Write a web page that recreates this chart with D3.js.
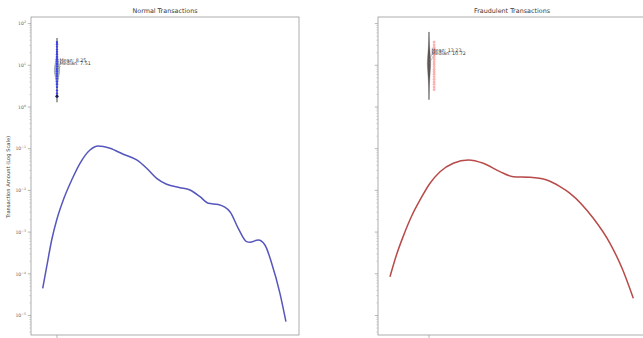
<!DOCTYPE html>
<html>
<head>
<meta charset="utf-8">
<script src="https://cdn.jsdelivr.net/npm/d3@7"></script>
<style>
  body { margin: 0; background: #fff; }
  svg { display: block; font-family: "DejaVu Sans", sans-serif; }
</style>
</head>
<body>
<svg id="chart" width="643" height="338"></svg>
<script>
// KDE curves (x in plot units, y = density, log axis)
const normalKdeX = [-0.55, -0.396, -0.204, -0.012, 0.242, 0.565, 0.885, 1.269, 1.588, 2.038, 2.55, 3.065, 3.45, 3.835, 4.219, 4.731, 5.115, 5.5, 5.819, 6.204, 6.654, 6.973, 7.296, 7.423, 7.742, 8.0, 8.258, 8.577, 8.808];
const normalKdeY = [4.49e-5, 1.48e-4, 6.47e-4, 1.95e-3, 5.89e-3, 0.0177, 0.0446, 0.0931, 0.116, 0.102, 0.0734, 0.0536, 0.0339, 0.0195, 0.014, 0.0116, 0.0102, 0.00706, 0.00491, 0.00459, 0.00308, 0.00123, 0.000589, 0.000569, 0.000647, 0.000491, 0.000179, 3.4e-5, 7.1e-6];
const fraudKdeX = [-0.765, -0.635, -0.504, -0.34, -0.176, 0.02, 0.216, 0.476, 0.771, 1.065, 1.392, 1.653, 1.98, 2.308, 2.569, 2.765, 3.222, 3.549, 3.8, 4.006];
const fraudKdeY = [8.51e-5, 2.9e-4, 8.0e-4, 2.43e-3, 5.89e-3, 0.0148, 0.0281, 0.0446, 0.0536, 0.0446, 0.0281, 0.0213, 0.0206, 0.0177, 0.0123, 0.00851, 0.00214, 0.000538, 0.000123, 2.58e-5];

// violin profiles (amount, relative density)
const normalViolinAmt = [1.3, 1.7, 2.5, 3.5, 5, 7, 9, 12, 16, 22, 30, 45];
const normalViolinDens = [0.02, 0.06, 0.12, 0.25, 0.6, 1.0, 0.95, 0.6, 0.3, 0.12, 0.05, 0.02];
const fraudViolinAmt = [1.5, 2.2, 3.5, 5, 8, 11, 15, 22, 30, 45, 63];
const fraudViolinDens = [0.02, 0.08, 0.25, 0.5, 0.85, 1.0, 0.85, 0.55, 0.3, 0.1, 0.02];

// strip points (amounts)
const normalPoints = [1.8, 2.1, 2.5, 3.0, 3.5, 4.1, 4.8, 5.5, 6.3, 7.2, 8.2, 9.4, 10.8, 12.3, 14, 16, 18.5, 21, 24, 28, 32, 36];
const fraudPoints = [2.6, 3.0, 3.5, 4.0, 4.6, 5.3, 6.1, 7.0, 8.0, 9.2, 10.5, 12, 13.8, 15.8, 18, 20.6, 23.5, 27, 31, 36];

const panelTitles = ['Normal Transactions', 'Fraudulent Transactions'];
const meanValues = [8.25, 13.23];
const medianValues = [7.51, 10.72];
const yTickExps = [-5, -4, -3, -2, -1, 0, 1, 2];
const yLabel = 'Transaction Amount (Log Scale)';

const svg = d3.select('#chart');
const plotTop = 17, plotBottom = 335;
const y = d3.scaleLog().domain([Math.pow(10, -5.468), Math.pow(10, 2.158)]).range([plotBottom, plotTop]);

const panels = [
  {
    title: panelTitles[0], left: 31, right: 299, xDomain: [-1, 9.31],
    kdeX: normalKdeX, kdeY: normalKdeY, line: '#5656bd',
    vAmt: normalViolinAmt, vDens: normalViolinDens, vFill: '#8299ad', vHalf: 2.6,
    pts: normalPoints, ptColor: '#1a1aff', ptOffset: 0, ptR: 1.2, ptOpacity: 0.7,
    mean: meanValues[0], median: medianValues[0], meanDy: -6.8, medianDy: -5.6,
    showYLabels: true
  },
  {
    title: panelTitles[1], left: 378, right: 646, xDomain: [-1, 4.255],
    kdeX: fraudKdeX, kdeY: fraudKdeY, line: '#b84a4a',
    vAmt: fraudViolinAmt, vDens: fraudViolinDens, vFill: '#3e2c2c', vHalf: 1.7,
    pts: fraudPoints, ptColor: '#ff3a3a', ptOffset: 0.1, ptR: 1.4, ptOpacity: 0.4,
    mean: meanValues[1], median: medianValues[1], meanDy: -8.4, medianDy: -8.6,
    showYLabels: false
  }
];

panels.forEach(p => {
  const x = d3.scaleLinear().domain(p.xDomain).range([p.left, p.right]);
  const g = svg.append('g');

  // title
  g.append('text')
    .attr('x', (p.left + p.right) / 2)
    .attr('y', 13)
    .attr('text-anchor', 'middle')
    .attr('font-size', 6.4)
    .attr('fill', '#3a3a3a')
    .text(p.title);

  // y ticks (major + minor)
  yTickExps.forEach(e => {
    const v = Math.pow(10, e);
    g.append('line')
      .attr('x1', p.left - 3.2).attr('x2', p.left)
      .attr('y1', y(v)).attr('y2', y(v))
      .attr('stroke', '#888').attr('stroke-width', 0.6);
    if (p.showYLabels) {
      const t = g.append('text')
        .attr('x', p.left - 5)
        .attr('y', y(v) + 1.8)
        .attr('text-anchor', 'end')
        .attr('font-size', 4.6)
        .attr('fill', '#666');
      t.append('tspan').text('10');
      t.append('tspan').attr('dy', -2).attr('font-size', 3.2).text(e < 0 ? '\u2212' + (-e) : e);
    }
  });
  for (let e = -6; e <= 2; e++) {
    for (let m = 2; m <= 9; m++) {
      const v = m * Math.pow(10, e);
      if (v < y.domain()[0] || v > y.domain()[1]) continue;
      g.append('line')
        .attr('x1', p.left - 1.8).attr('x2', p.left)
        .attr('y1', y(v)).attr('y2', y(v))
        .attr('stroke', '#aaa').attr('stroke-width', 0.4);
    }
  }

  // x tick at category position
  g.append('line')
    .attr('x1', x(0)).attr('x2', x(0))
    .attr('y1', plotBottom).attr('y2', plotBottom + 3)
    .attr('stroke', '#888').attr('stroke-width', 0.6);

  // KDE line
  const kde = p.kdeX.map((d, i) => [d, p.kdeY[i]]);
  g.append('path')
    .datum(kde)
    .attr('fill', 'none')
    .attr('stroke', p.line)
    .attr('stroke-width', 1.5)
    .attr('stroke-linejoin', 'round')
    .attr('d', d3.line().x(d => x(d[0])).y(d => y(d[1])).curve(d3.curveMonotoneX));

  // whisker line through violin
  g.append('line')
    .attr('x1', x(0)).attr('x2', x(0))
    .attr('y1', y(d3.min(p.vAmt))).attr('y2', y(d3.max(p.vAmt)))
    .attr('stroke', '#555').attr('stroke-width', 0.7);

  // violin
  const vData = p.vAmt.map((a, i) => ({ a, w: p.vDens[i] }));
  g.append('path')
    .datum(vData)
    .attr('fill', p.vFill)
    .attr('fill-opacity', 0.75)
    .attr('stroke', '#555')
    .attr('stroke-width', 0.3)
    .attr('d', d3.area()
      .y(d => y(d.a))
      .x0(d => x(0) - d.w * p.vHalf)
      .x1(d => x(0) + d.w * p.vHalf)
      .curve(d3.curveCatmullRom));

  // strip points
  g.selectAll('.pt')
    .data(p.pts)
    .enter()
    .append('circle')
    .attr('cx', x(p.ptOffset))
    .attr('cy', d => y(d))
    .attr('r', p.ptR)
    .attr('fill', p.ptColor)
    .attr('fill-opacity', p.ptOpacity);

  if (p.ptOffset === 0) {
    g.append('circle')
      .attr('cx', x(0)).attr('cy', y(d3.min(p.pts)))
      .attr('r', 1.5).attr('fill', '#1a1a55');
  }

  // annotations
  const ax = x(0) + 2.5;
  [[p.mean, 'Mean: ' + p.mean.toFixed(2), p.meanDy], [p.median, 'Median: ' + p.median.toFixed(2), p.medianDy]].forEach(([v, label, dy]) => {
    g.append('line')
      .attr('x1', x(0)).attr('y1', y(v))
      .attr('x2', ax + 1.5).attr('y2', y(v) + dy + 1)
      .attr('stroke', '#777').attr('stroke-width', 0.4);
    g.append('text')
      .attr('x', ax)
      .attr('y', y(v) + dy)
      .attr('font-size', 4.8)
      .attr('fill', '#333')
      .text(label);
  });

  // frame
  g.append('rect')
    .attr('x', p.left).attr('y', plotTop)
    .attr('width', p.right - p.left).attr('height', plotBottom - plotTop)
    .attr('fill', 'none')
    .attr('stroke', '#9a9a9a')
    .attr('stroke-width', 0.8);
});

// y axis label
svg.append('text')
  .attr('transform', 'translate(10,177) rotate(-90)')
  .attr('text-anchor', 'middle')
  .attr('font-size', 5.2)
  .attr('fill', '#444')
  .text(yLabel);
</script>
</body>
</html>
